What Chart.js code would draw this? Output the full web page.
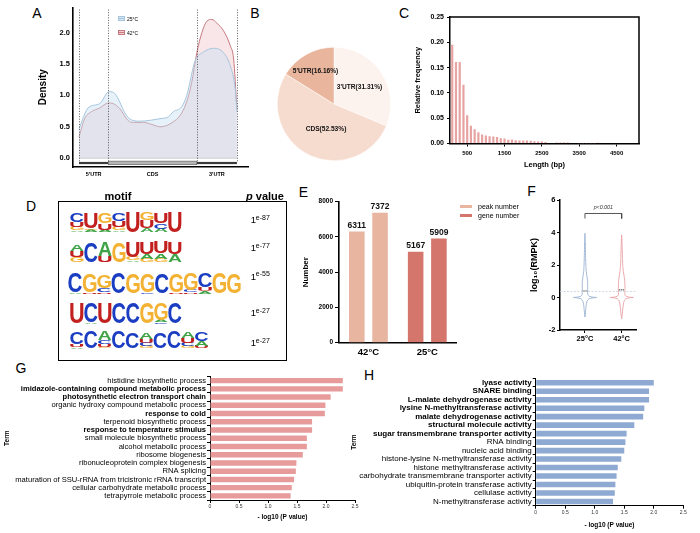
<!DOCTYPE html>
<html>
<head>
<meta charset="utf-8">
<script src="https://cdn.jsdelivr.net/npm/chart.js@4.4.1/dist/chart.umd.min.js"></script>
<style>
html,body{margin:0;padding:0;background:#fff;}
#fig{position:relative;width:700px;height:533px;overflow:hidden;background:#fff;font-family:"Liberation Sans",Arial,Helvetica,sans-serif;color:#000;}
#fig canvas{position:absolute;}
.t{position:absolute;white-space:nowrap;line-height:1;}
</style>
</head>
<body>
<div id="fig"></div>
<script>
// ================= DATA =================
// A: metagene density (position along transcript, 0-100)
const regionNames = ["5'UTR", "CDS", "3'UTR"];
const regionBounds = [0, 18.6, 74.6, 100];
const densityTicks = [0, 0.5, 1.0, 1.5, 2.0];
const pos25 = [0, 5.7, 13.1, 19.1, 22.7, 30.1, 34.3, 38.6, 51.3, 56.6, 59.7, 65, 68.2, 73.5, 78.8, 85.2, 91.5, 95.8, 98.9, 100];
const dens25 = [0.47, 0.8, 0.87, 1.06, 1.03, 0.68, 0.6, 0.59, 0.63, 0.66, 0.74, 0.82, 1.0, 1.55, 1.69, 1.75, 1.68, 1.47, 1.1, 0.74];
const pos42 = [0, 3.6, 7.8, 13.1, 18.6, 21.6, 25.8, 31.1, 34.3, 40.7, 47, 51.3, 55.5, 59.7, 64, 68.2, 71.4, 74.6, 77.8, 80.9, 84.1, 87.3, 91.5, 95.8, 97.9, 100];
const dens42 = [0.34, 0.63, 0.74, 0.8, 0.88, 0.87, 0.79, 0.6, 0.57, 0.57, 0.53, 0.5, 0.52, 0.58, 0.68, 0.9, 1.21, 1.68, 2.0, 2.18, 2.21, 2.15, 2.03, 1.79, 1.58, 0.79];

// B: peak distribution
const pieLabels = ["3'UTR(31.31%)", "CDS(52.53%)", "5'UTR(16.16%)"];
const pieValues = [31.31, 52.53, 16.16];

// C: peak length histogram
const lengthBins = [100,200,300,400,500,600,700,800,900,1000,1100,1200,1300,1400,1500,1600,1700,1800,1900,2000,2100,2200,2300,2400,2500,2600,2700,2800,2900,3000,3100,3200,3300,3400,3500,3600,3700,3800,3900,4000];
const relFreq = [0.195,0.161,0.161,0.116,0.056,0.035,0.028,0.022,0.018,0.016,0.0145,0.014,0.013,0.0106,0.0099,0.0073,0.008,0.0066,0.006,0.006,0.006,0.0053,0.0046,0.004,0.004,0.003,0.0012,0.0008,0.0022,0.002,0.002,0.0022,0.0012,0.0008,0.0005,0.0004,0.0004,0.0003,0.0003,0.0015];
const lengthTicks = [500, 1500, 2500, 3500, 4500];

// D: motifs (each position: letters bottom->top with height in bits)
const motifPValues = ['e-87', 'e-77', 'e-55', 'e-27', 'e-27'];
const motifs = [
  [ [['A',.15],['G',.3],['U',.45],['C',.75]], [['A',.2],['G',.15],['U',1.3]], [['A',.2],['U',.55],['G',.9]], [['A',.15],['G',.3],['U',.5],['C',.65]],
    [['U',1.8]], [['A',.35],['U',.7],['G',.7]], [['A',.3],['C',.5],['U',.9]], [['U',1.85]] ],
  [ [['G',.4],['U',.55],['A',.6]], [['C',1.75]], [['U',.5],['A',1.2]], [['G',1.75]],
    [['A',.15],['G',.3],['U',1.3]], [['G',.3],['A',.4],['U',.95]], [['G',.3],['A',.45],['U',1.0]], [['A',.65],['U',1.05]] ],
  [ [['A',.12],['C',1.75]], [['U',.15],['G',1.55]], [['U',.15],['C',.35],['G',1.15]], [['C',1.8]], [['G',1.75]], [['C',.15],['G',1.6]],
    [['C',1.75]], [['U',.15],['G',1.6]], [['U',.1],['C',.2],['G',1.5]], [['A',.2],['U',.35],['C',1.2]], [['G',1.8]], [['G',1.75]] ],
  [ [['U',1.85]], [['A',.1],['C',1.75]], [['U',1.85]], [['C',1.85]], [['C',1.8]], [['G',1.8]], [['C',.1],['A',.2],['G',1.5]], [['C',1.8]] ],
  [ [['A',.12],['U',.25],['C',1.05]], [['C',1.45]], [['G',.15],['U',.25],['C',.3],['A',.8]], [['C',1.45]], [['C',1.4]],
    [['G',.2],['C',.3],['U',.35],['A',.6]], [['C',1.4]], [['C',1.45]], [['G',.2],['C',.3],['U',.4],['A',.55]], [['U',.2],['A',.4],['C',.75]] ]
];

// E: peak / gene numbers
const tempGroups = ['42°C', '25°C'];
const firstBars = [6311, 5167];
const secondBars = [7372, 5909];
const eLegend = ['peak number', 'gene number'];

// F: violin profiles (log10 RMPK value, half-width)
const violinGroups = ['25°C', '42°C'];
const vY25 = [-1.2,-0.9,-0.6,-0.35,-0.2,-0.08,-0.02,0,0.02,0.08,0.2,0.4,0.7,1.0,1.3,1.6,2.0,2.6,3.3,3.95];
const vW25 = [0,0.016,0.027,0.041,0.063,0.109,0.218,0.319,0.218,0.109,0.076,0.074,0.074,0.071,0.054,0.035,0.025,0.016,0.011,0];
const vY42 = [-1.3,-1.0,-0.7,-0.4,-0.2,-0.08,-0.02,0,0.02,0.08,0.2,0.4,0.7,1.0,1.3,1.6,2.0,2.5,3.1,3.85];
const vW42 = [0,0.019,0.03,0.049,0.071,0.114,0.218,0.319,0.218,0.114,0.087,0.09,0.09,0.084,0.068,0.046,0.03,0.022,0.014,0];
const vMedians = [0.4, 0.47];
const vRefLine = 0.37;

// G: GO biological process
const gTerms = ['histidine biosynthetic process','imidazole-containing compound metabolic process','photosynthetic electron transport chain','organic hydroxy compound metabolic process','response to cold','terpenoid biosynthetic process','response to temperature stimulus','small molecule biosynthetic process','alcohol metabolic process','ribosome biogenesis','ribonucleoprotein complex biogenesis','RNA splicing','maturation of SSU-rRNA from tricistronic rRNA transcript','cellular carbohydrate metabolic process','tetrapyrrole metabolic process'];
const gValues = [2.29,2.29,2.08,1.99,1.98,1.76,1.76,1.67,1.67,1.60,1.49,1.48,1.45,1.41,1.39];
const gBold = [1,2,4,6];

// H: GO molecular function
const hTerms = ['lyase activity','SNARE binding','L-malate dehydrogenase activity','lysine N-methyltransferase activity','malate dehydrogenase activity','structural molecule activity','sugar transmembrane transporter activity','RNA binding','nucleic acid binding','histone-lysine N-methyltransferase activity','histone methyltransferase activity','carbohydrate transmembrane transporter activity','ubiquitin-protein transferase activity','cellulase activity','N-methyltransferase activity'];
const hValues = [2.00,1.92,1.92,1.84,1.82,1.67,1.54,1.52,1.50,1.45,1.39,1.37,1.35,1.34,1.31];
const hBold = [0,1,2,3,4,5,6];

// ================= SETUP =================
const FONT = '"Liberation Sans", Arial, Helvetica, sans-serif';
Chart.defaults.font.family = FONT;
Chart.defaults.color = '#000';
Chart.defaults.animation = false;
Chart.defaults.responsive = false;
Chart.defaults.maintainAspectRatio = false;
Chart.defaults.plugins.legend.display = false;
Chart.defaults.plugins.tooltip.enabled = false;
Chart.defaults.events = [];

const fig = document.getElementById('fig');
function makeCanvas(left, top, w, h) {
  const c = document.createElement('canvas');
  c.width = w; c.height = h;
  c.style.left = left + 'px'; c.style.top = top + 'px';
  c.style.width = w + 'px'; c.style.height = h + 'px';
  fig.appendChild(c);
  return c;
}
function addText(html, x, y, css, anchor) {
  const d = document.createElement('div');
  d.className = 't';
  d.innerHTML = html;
  d.style.cssText += css || '';
  d.style.left = x + 'px'; d.style.top = y + 'px';
  const a = anchor || 'c';
  d.style.transform = a === 'c' ? 'translate(-50%,-50%)' : 'translate(0,-50%)';
  fig.appendChild(d);
  return d;
}
function addBox(x, y, w, h, css) {
  const d = document.createElement('div');
  d.style.cssText = 'position:absolute;box-sizing:border-box;left:' + x + 'px;top:' + y + 'px;width:' + w + 'px;height:' + h + 'px;' + css;
  fig.appendChild(d);
}
const fixW = w => s => { s.width = w; };
const fixH = h => s => { s.height = h; };
const setTicks = vals => s => { s.ticks = vals.map(v => ({ value: v })); };
const noPad = { top: 0, bottom: 0 };

// Panel letters
[['A',37,13],['B',255,13],['C',404,13],['D',31,206],['E',303.5,192],['F',531.5,191],['G',21,368],['H',369,375]]
  .forEach(([l,x,y]) => addText(l, x, y, 'font-size:14px;'));

// ================= A =================
const regionPlugin = {
  id: 'regions',
  afterDatasetsDraw(chart) {
    const { ctx, scales: { x, y } } = chart;
    const top = chart.chartArea.top;
    ctx.save();
    ctx.strokeStyle = '#c8c8c8'; ctx.lineWidth = 0.8;
    ctx.beginPath(); ctx.moveTo(x.getPixelForValue(0), y.getPixelForValue(0)); ctx.lineTo(x.getPixelForValue(100), y.getPixelForValue(0)); ctx.stroke();
    ctx.strokeStyle = '#333'; ctx.lineWidth = 0.8; ctx.setLineDash([1, 1.6]);
    regionBounds.forEach(v => {
      const px = Math.round(x.getPixelForValue(v)) + 0.5;
      ctx.beginPath(); ctx.moveTo(px, top + 2); ctx.lineTo(px, y.getPixelForValue(-0.07)); ctx.stroke();
    });
    ctx.setLineDash([]);
    const gy = y.getPixelForValue(-0.075);
    ctx.fillStyle = '#3a3a3a';
    ctx.fillRect(x.getPixelForValue(regionBounds[0]), gy - 1, x.getPixelForValue(regionBounds[1]) - x.getPixelForValue(regionBounds[0]), 2.2);
    ctx.fillRect(x.getPixelForValue(regionBounds[2]), gy - 1, x.getPixelForValue(regionBounds[3]) - x.getPixelForValue(regionBounds[2]), 2.2);
    ctx.fillStyle = '#b5b5b5'; ctx.strokeStyle = '#555'; ctx.lineWidth = 0.6;
    const cx0 = x.getPixelForValue(regionBounds[1]), cx1 = x.getPixelForValue(regionBounds[2]);
    ctx.fillRect(cx0, gy - 1.8, cx1 - cx0, 3.6); ctx.strokeRect(cx0, gy - 1.8, cx1 - cx0, 3.6);
    ctx.restore();
  }
};
new Chart(makeCanvas(0, 0, 252, 185), {
  type: 'line',
  data: { datasets: [
    { label: '25°C', data: pos25.map((x, i) => ({ x, y: dens25[i] })), borderColor: '#a7c5dc', backgroundColor: 'rgba(200,224,242,0.45)', fill: { value: 0 }, borderWidth: 1, pointRadius: 0, cubicInterpolationMode: 'monotone' },
    { label: '42°C', data: pos42.map((x, i) => ({ x, y: dens42[i] })), borderColor: '#c67a7f', backgroundColor: 'rgba(240,192,198,0.4)', fill: { value: 0 }, borderWidth: 1, pointRadius: 0, cubicInterpolationMode: 'monotone' }
  ]},
  options: {
    layout: { padding: { left: 37, top: 5, right: 4, bottom: 0 } },
    scales: {
      x: { type: 'linear', min: -3.8, max: 107, afterFit: fixH(18),
        afterBuildTicks: setTicks(regionBounds.slice(0, 3).map((b, i) => (b + regionBounds[i + 1]) / 2)),
        grid: { display: true, drawOnChartArea: false, drawTicks: false }, border: { display: true, color: '#000', width: 1.6 },
        ticks: { padding: 4, autoSkip: false, maxRotation: 0, font: { size: 5.5, weight: 'bold' }, callback: (v, i) => regionNames[i] } },
      y: { type: 'linear', min: -0.14, max: 2.4, afterFit: fixW(36), afterBuildTicks: setTicks(densityTicks),
        grid: { display: true, drawOnChartArea: false, drawTicks: false }, border: { display: true, color: '#000', width: 1.6 },
        ticks: { padding: 3, font: { size: 7.5, weight: 'bold' }, callback: v => v.toFixed(1) },
        title: { display: true, text: 'Density', font: { size: 10, weight: 'bold' }, padding: noPad } }
    }
  },
  plugins: [regionPlugin]
});
addBox(118, 16, 7, 5, 'background:rgba(200,224,242,0.8);border:0.6px solid #a7c5dc;');
addBox(118, 18.3, 7, 0.6, 'background:#a7c5dc;');
addBox(118, 30, 7, 5, 'background:rgba(240,192,198,0.8);border:0.6px solid #c67a7f;');
addBox(118, 32.3, 7, 0.6, 'background:#c67a7f;');
addText('25°C', 127, 18.5, 'font-size:5px;', 'l');
addText('42°C', 127, 32.5, 'font-size:5px;', 'l');

// ================= B =================
const pieLabelPlugin = {
  id: 'pieLabels',
  afterDatasetsDraw(chart) {
    const { ctx } = chart;
    const meta = chart.getDatasetMeta(0);
    const frac = [0.54, 0.5, 0.67], dx = [0, 5, 0];
    ctx.save();
    ctx.font = 'bold 6.6px ' + FONT; ctx.fillStyle = '#111'; ctx.textAlign = 'center'; ctx.textBaseline = 'middle';
    meta.data.forEach((arc, i) => {
      const mid = (arc.startAngle + arc.endAngle) / 2;
      const r = arc.outerRadius * frac[i];
      ctx.fillText(chart.data.labels[i], arc.x + Math.cos(mid) * r + dx[i], arc.y + Math.sin(mid) * r);
    });
    ctx.restore();
  }
};
new Chart(makeCanvas(269, 39, 130, 130), {
  type: 'pie',
  data: { labels: pieLabels, datasets: [{ data: pieValues, backgroundColor: ['#fdf3ee', '#f6dccf', '#e9b59c'], borderColor: '#fff', borderWidth: 0.5 }] },
  options: { layout: { padding: 8 } },
  plugins: [pieLabelPlugin]
});

// ================= C =================
const frameBox = {
  id: 'frameBox',
  afterDraw(chart) {
    const { ctx, chartArea: a } = chart;
    ctx.save(); ctx.strokeStyle = '#000'; ctx.lineWidth = 1.5;
    ctx.beginPath(); ctx.moveTo(a.left, a.top); ctx.lineTo(a.right, a.top); ctx.lineTo(a.right, a.bottom); ctx.stroke();
    ctx.restore();
  }
};
new Chart(makeCanvas(400, 0, 250, 185), {
  type: 'bar',
  data: { datasets: [{ data: lengthBins.map((x, i) => ({ x, y: relFreq[i] })), backgroundColor: '#e8a3a3', barPercentage: 0.66, categoryPercentage: 0.9 }] },
  options: {
    layout: { padding: { left: 13.5, top: 17, right: 11, bottom: 15.5 } },
    scales: {
      x: { type: 'linear', offset: false, min: 40, max: 5100, afterFit: fixH(26), afterBuildTicks: setTicks(lengthTicks),
        grid: { display: true, offset: false, drawOnChartArea: false, drawTicks: true, tickLength: 3, color: '#000' }, border: { color: '#000', width: 1.5 },
        ticks: { padding: 3, font: { size: 6, weight: 'bold' }, callback: v => String(v) },
        title: { display: true, text: 'Length (bp)', font: { size: 7.5, weight: 'bold' }, padding: noPad } },
      y: { min: 0, max: 0.25, afterFit: fixW(36.5),
        grid: { display: true, drawOnChartArea: false, drawTicks: true, tickLength: 3, color: '#000' }, border: { color: '#000', width: 1.5 },
        ticks: { stepSize: 0.05, padding: 3, font: { size: 7, weight: 'bold' }, callback: v => v.toFixed(2) },
        title: { display: true, text: 'Relative frequency', font: { size: 7.5, weight: 'bold' }, padding: noPad } }
    }
  },
  plugins: [frameBox]
});

// ================= D =================
const letterColors = { A: '#3fa447', C: '#1b3dc2', G: '#f3b233', U: '#c2201f' };
function drawLetter(ctx, L, x, y, w, h) {
  if (h < 0.4 || w <= 0) return;
  ctx.save();
  ctx.font = 'bold 100px ' + FONT;
  const m = ctx.measureText(L);
  const gw = m.actualBoundingBoxLeft + m.actualBoundingBoxRight;
  const gh = m.actualBoundingBoxAscent + m.actualBoundingBoxDescent;
  ctx.translate(x, y);
  ctx.scale(w / gw, h / gh);
  ctx.fillStyle = letterColors[L];
  ctx.textAlign = 'left'; ctx.textBaseline = 'alphabetic';
  ctx.fillText(L, m.actualBoundingBoxLeft, m.actualBoundingBoxAscent);
  ctx.restore();
}
const logoRows = { base: [11.13, 8.52, 5.78, 3.17, 1.0], start: [0, 0, -0.14, 0, 0], width: [1, 1, 1.03, 1, 0.99] };
const logoPlugin = {
  id: 'logo',
  afterDraw(chart) {
    const { ctx, scales: { x, y } } = chart;
    motifs.forEach((motif, r) => {
      const base = logoRows.base[r], cw = logoRows.width[r], x0 = logoRows.start[r];
      motif.forEach((stack, j) => {
        const xl = x.getPixelForValue(x0 + j * cw), xr = x.getPixelForValue(x0 + (j + 1) * cw);
        let acc = 0;
        stack.forEach(([L, h]) => {
          const yb = y.getPixelForValue(base + acc), yt = y.getPixelForValue(base + acc + h);
          drawLetter(ctx, L, xl + 0.4, yt, (xr - xl) - 0.8, yb - yt);
          acc += h;
        });
      });
    });
  }
};
addBox(58, 201, 229, 160, 'border:1.5px solid #000;');
new Chart(makeCanvas(58, 201, 229, 159), {
  type: 'scatter',
  data: { datasets: [{ data: [] }] },
  options: {
    layout: { padding: 0 },
    scales: { x: { type: 'linear', display: false, min: -0.857, max: 15.5 }, y: { type: 'linear', display: false, min: 0, max: 13.83 } }
  },
  plugins: [logoPlugin]
});
addText('motif', 118, 196, 'font-size:11px;font-weight:bold;');
addText('<i>p</i> value', 265, 196, 'font-size:11px;font-weight:bold;');
const pRowsY = [220.3, 248.3, 276.7, 313.3, 343.3];
motifPValues.forEach((p, i) => {
  addText('1', 250.8, pRowsY[i], 'font-size:9.5px;', 'l');
  addText(p, 255.8, pRowsY[i] - 3.6, 'font-size:7px;', 'l');
});

// ================= E =================
const eColors = ['#e8b5a1', '#d4766b'];
const valueLabels = {
  id: 'valueLabels',
  afterDatasetsDraw(chart) {
    const { ctx } = chart;
    ctx.save();
    ctx.font = 'bold 8.5px ' + FONT; ctx.fillStyle = '#111'; ctx.textAlign = 'center'; ctx.textBaseline = 'bottom';
    chart.data.datasets.forEach((ds, di) => {
      chart.getDatasetMeta(di).data.forEach((bar, i) => ctx.fillText(String(ds.data[i]), bar.x, bar.y - 1.5));
    });
    ctx.restore();
  }
};
new Chart(makeCanvas(300, 185, 165, 175), {
  type: 'bar',
  data: { labels: tempGroups, datasets: [
    { data: firstBars, backgroundColor: eColors, categoryPercentage: 0.79, barPercentage: 0.67 },
    { data: secondBars, backgroundColor: eColors, categoryPercentage: 0.79, barPercentage: 0.67 }
  ]},
  options: {
    layout: { padding: { left: 0.7, top: 16.7, right: 8.3, bottom: 0 } },
    scales: {
      x: { afterFit: fixH(17.3), grid: { display: true, drawOnChartArea: false, drawTicks: false }, border: { color: '#000', width: 1.6 },
        ticks: { padding: 3.5, font: { size: 9.5, weight: 'bold' } } },
      y: { min: 0, max: 8000, afterFit: fixW(38.3),
        grid: { display: true, drawOnChartArea: false, drawTicks: true, tickLength: 4, color: '#000' }, border: { color: '#000', width: 1.6 },
        ticks: { stepSize: 2000, padding: 2, font: { size: 6.5, weight: 'bold' }, callback: v => String(v) },
        title: { display: true, text: 'Number', font: { size: 8, weight: 'bold' }, padding: noPad } }
    }
  },
  plugins: [valueLabels]
});
addBox(460, 204.5, 12, 3, 'background:' + eColors[0] + ';');
addBox(460, 213.5, 12, 3, 'background:' + eColors[1] + ';');
addText(eLegend[0], 478, 206, 'font-size:7px;', 'l');
addText(eLegend[1], 478, 215, 'font-size:7px;', 'l');

// ================= F =================
function violinOutline(c, ys, ws) {
  const right = ys.map((y, i) => ({ x: c + ws[i], y }));
  const left = ys.map((y, i) => ({ x: c - ws[i], y })).reverse();
  return right.concat(left);
}
const fText = {
  id: 'fText',
  afterDraw(chart) {
    const { ctx, scales: { x, y } } = chart;
    ctx.save();
    ctx.font = 'italic 5.3px ' + FONT; ctx.fillStyle = '#333'; ctx.textAlign = 'center'; ctx.textBaseline = 'middle';
    ctx.fillText('p<0.001', x.getPixelForValue(1.5), y.getPixelForValue(5.55));
    ctx.restore();
  }
};
const fLine = (data, color, width, dash) => ({ type: 'line', data, borderColor: color, borderWidth: width, borderDash: dash || [], pointRadius: 0, fill: false, tension: 0 });
new Chart(makeCanvas(525, 185, 175, 175), {
  type: 'line',
  data: { datasets: [
    fLine([{ x: 0.32, y: vRefLine }, { x: 2.41, y: vRefLine }], '#c6d1dc', 0.8, [2, 1.5]),
    Object.assign(fLine(violinOutline(1, vY25, vW25), '#9cb3d3', 0.9), { tension: 0.25 }),
    Object.assign(fLine(violinOutline(2, vY42, vW42), '#e9a2a6', 0.9), { tension: 0.25 }),
    fLine([{ x: 1 - 0.07, y: vMedians[0] }, { x: 1 + 0.07, y: vMedians[0] }], '#111', 0.9, [1.2, 0.8]),
    fLine([{ x: 2 - 0.08, y: vMedians[1] }, { x: 2 + 0.08, y: vMedians[1] }], '#111', 0.9, [1.2, 0.8]),
    fLine([{ x: 1, y: 4.86 }, { x: 1, y: 5.17 }, { x: 2, y: 5.17 }, { x: 2, y: 4.86 }], '#444', 0.9)
  ]},
  options: {
    layout: { padding: { left: 4.6, top: 15, right: 63.3, bottom: 0 } },
    scales: {
      x: { type: 'linear', min: 0.32, max: 2.41, afterFit: fixH(30), afterBuildTicks: setTicks([1, 2]),
        grid: { display: true, drawOnChartArea: false, drawTicks: true, tickLength: 3, color: '#000' }, border: { color: '#000', width: 1.5 },
        ticks: { padding: 1.5, autoSkip: false, font: { size: 7.5, weight: 'bold' }, callback: (v, i) => violinGroups[i] } },
      y: { min: -2, max: 6, afterFit: fixW(30.4),
        grid: { display: true, drawOnChartArea: false, drawTicks: true, tickLength: 3, color: '#000' }, border: { color: '#000', width: 1.5 },
        ticks: { stepSize: 2, padding: 1.5, font: { size: 7.5, weight: 'bold' } },
        title: { display: true, text: 'log₁₀(RMPK)', font: { size: 9, weight: 'bold' }, padding: noPad } }
    }
  },
  plugins: [fText]
});

// ================= G / H =================
function goChart(canvas, terms, values, boldIdx, color, pad, yW, xH, fontSize) {
  const bold = new Set(boldIdx);
  return new Chart(canvas, {
    type: 'bar',
    data: { labels: terms, datasets: [{ data: values, backgroundColor: color, categoryPercentage: 1, barPercentage: 0.66 }] },
    options: {
      indexAxis: 'y',
      layout: { padding: pad },
      scales: {
        x: { min: 0, max: 2.5, afterFit: fixH(xH),
          grid: { display: true, drawOnChartArea: false, drawTicks: true, tickLength: 3, color: '#000' }, border: { color: '#000', width: 1 },
          ticks: { stepSize: 0.5, padding: 0.5, color: '#333', font: { size: 5 } },
          title: { display: true, text: '- log10 (P value)', font: { size: 6.5, weight: 'bold' }, padding: noPad } },
        y: { afterFit: fixW(yW),
          grid: { display: true, drawOnChartArea: false, drawTicks: true, tickLength: 3, color: '#000' }, border: { color: '#000', width: 1 },
          ticks: { autoSkip: false, padding: 1, color: '#000', font: ctx => ({ size: fontSize, weight: bold.has(ctx.index) ? 'bold' : 'normal' }) },
          title: { display: true, text: 'Term', font: { size: 6.5, weight: 'bold' }, padding: noPad } }
      }
    }
  });
}
goChart(makeCanvas(0, 360, 360, 173), gTerms, gValues, gBold, '#e89b9b', { left: 3.1, top: 16.5, right: 5, bottom: 11.5 }, 206.9, 21.5, 7.6);
goChart(makeCanvas(350, 360, 350, 173), hTerms, hValues, hBold, '#8eaad3', { left: 0, top: 18.5, right: 16.7, bottom: 4.1 }, 185.7, 23.2, 8);
</script>
</body>
</html>
